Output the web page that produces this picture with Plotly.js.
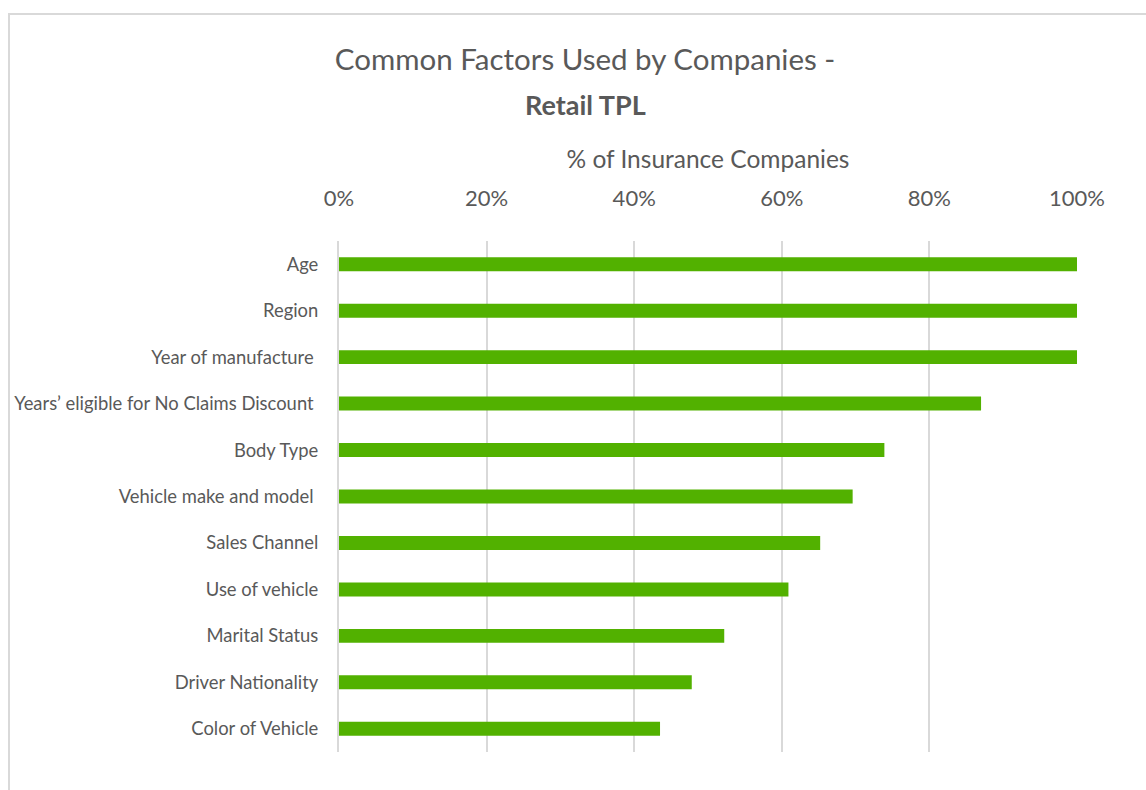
<!DOCTYPE html>
<html>
<head>
<meta charset="utf-8">
<script src="https://cdn.plot.ly/plotly-3.0.1.min.js"></script>
<style>
  html, body { margin: 0; padding: 0; background: #ffffff; overflow: hidden; }
  #chart { position: absolute; left: 0; top: 0; width: 1146px; height: 790px; }
  #frame { position: absolute; left: 8px; top: 13px; width: 1200px; height: 900px;
           border-left: 2px solid #d9d9d9; border-top: 2px solid #d9d9d9; pointer-events: none; }
</style>
</head>
<body>
<div id="chart"></div>
<div id="frame"></div>
<script>
// Data
const categories = [
  "Age",
  "Region",
  "Year of manufacture\u00a0",
  "Years\u2019 eligible for No Claims Discount\u00a0",
  "Body Type",
  "Vehicle make and model\u00a0",
  "Sales Channel",
  "Use of vehicle",
  "Marital Status",
  "Driver Nationality",
  "Color of Vehicle"
];
const shareOfCompanies = [100, 100, 100, 87.0, 73.9, 69.6, 65.2, 60.9, 52.2, 47.8, 43.5];
const tickValues = [0, 20, 40, 60, 80, 100];
const tickLabels = ["0%", "20%", "40%", "60%", "80%", "100%"];

const titleLine1 = "Common Factors Used by Companies -";
const titleLine2 = "Retail TPL";
const xTitle = "% of Insurance Companies";

const textColor = "#595959";
const font = "Lato, 'Open Sans', sans-serif";

const trace = {
  type: "bar",
  orientation: "h",
  y: categories,
  x: shareOfCompanies,
  marker: { color: "#52b100" },
  hoverinfo: "x+y"
};

const layout = {
  width: 1146,
  height: 790,
  paper_bgcolor: "#ffffff",
  plot_bgcolor: "#ffffff",
  margin: { l: 339, r: 69, t: 241, b: 38 },
  bargap: 0.7,
  showlegend: false,
  font: { family: font, color: textColor },
  title: {
    text: titleLine1,
    x: 0.5105, xanchor: "center",
    y: 0.925, yanchor: "middle",
    font: { family: font, size: 29.5, color: textColor }
  },
  annotations: [{
    text: "<b>" + titleLine2 + "</b>",
    xref: "paper", yref: "paper",
    x: (585 - 339) / 738, y: 1 + (241 - 104) / 511,
    xanchor: "center", yanchor: "middle",
    showarrow: false,
    font: { family: font, size: 27, color: textColor }
  }],
  xaxis: {
    side: "top",
    range: [0, 100],
    tickvals: tickValues,
    ticktext: tickLabels,
    showgrid: true,
    gridcolor: "#d9d9d9",
    gridwidth: 2,
    zeroline: false,
    showline: false,
    ticks: "",
    ticklabelstandoff: 30,
    tickfont: { family: font, size: 22, color: textColor },
    title: {
      text: xTitle,
      standoff: 8,
      font: { family: font, size: 24.5, color: textColor }
    },
    fixedrange: true
  },
  yaxis: {
    autorange: "reversed",
    type: "category",
    showgrid: false,
    zeroline: false,
    showline: true,
    linecolor: "#d9d9d9",
    linewidth: 2,
    ticks: "",
    ticklabelstandoff: 15,
    tickfont: { family: font, size: 18.4, color: textColor },
    fixedrange: true
  }
};

Plotly.newPlot("chart", [trace], layout, { displayModeBar: false });
</script>
</body>
</html>
